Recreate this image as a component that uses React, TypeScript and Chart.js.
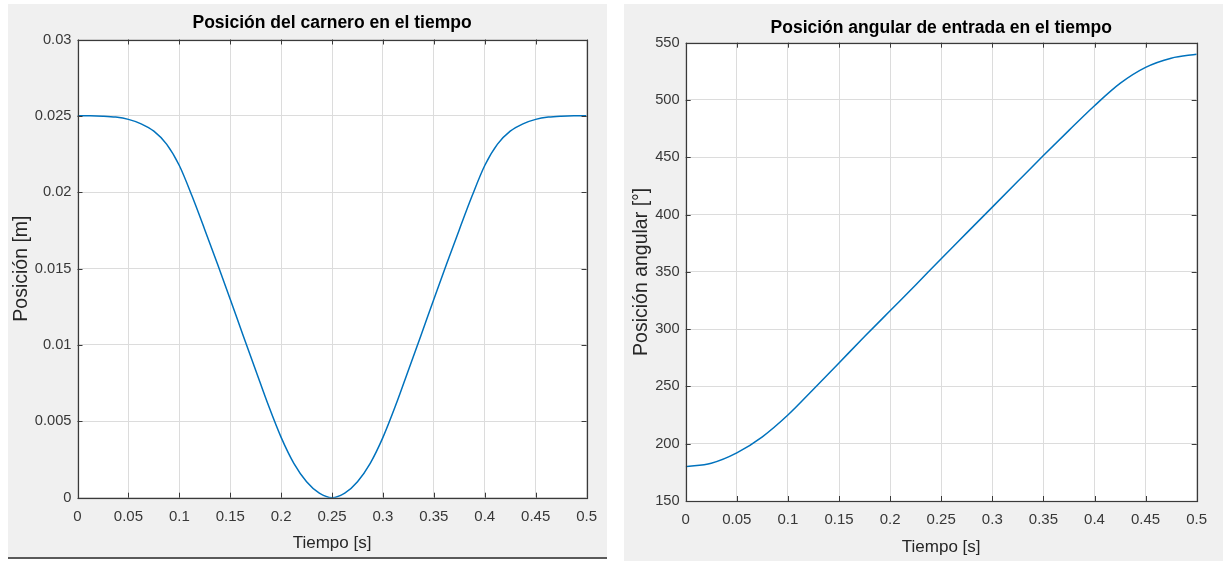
import React, { useEffect, useRef } from 'react';
import { Chart, registerables } from 'chart.js';

Chart.register(...registerables);

// ---------- data ----------
const tiempoCarnero = [
  0, 0.0125, 0.025, 0.0375, 0.05, 0.0625, 0.075, 0.0875, 0.1, 0.1125, 0.125,
  0.1375, 0.15, 0.1625, 0.175, 0.1875, 0.2, 0.2125, 0.225, 0.2375, 0.25,
  0.2625, 0.275, 0.2875, 0.3, 0.3125, 0.325, 0.3375, 0.35, 0.3625, 0.375,
  0.3875, 0.4, 0.4125, 0.425, 0.4375, 0.45, 0.4625, 0.475, 0.4875, 0.5,
];
const posicionCarnero = [
  0.025, 0.025, 0.02498, 0.02492, 0.02477, 0.02448, 0.024, 0.02315, 0.02175, 0.01975, 0.01755,
  0.0153, 0.013, 0.01065, 0.00835, 0.00605, 0.00395, 0.00225, 0.00105, 0.0003, 0.0,
  0.0003, 0.00105, 0.00225, 0.00395, 0.00605, 0.00835, 0.01065, 0.013, 0.0153, 0.01755,
  0.01975, 0.02175, 0.02315, 0.024, 0.02448, 0.02477, 0.02492, 0.02498, 0.025, 0.025,
];

const tiempoEntrada = [
  0, 0.025, 0.05, 0.075, 0.1, 0.125, 0.15, 0.175, 0.2, 0.225, 0.25,
  0.275, 0.3, 0.325, 0.35, 0.375, 0.4, 0.425, 0.45, 0.475, 0.5,
];
const anguloEntrada = [
  180, 183, 192, 206, 225, 247.5, 270.5, 293.5, 316, 338.5, 361.5,
  384, 406.5, 429, 451.5, 473.5, 495, 514.5, 528.5, 536.5, 540,
];

const tituloCarnero = 'Posición del carnero en el tiempo';
const tituloEntrada = 'Posición angular de entrada en el tiempo';
const etiquetaX = 'Tiempo [s]';
const etiquetaYCarnero = 'Posición [m]';
const etiquetaYEntrada = 'Posición angular [°]';

const FONT = "'Liberation Sans', Arial, Helvetica, sans-serif";
const LINE_COLOR = '#0072BD';
const AXIS_COLOR = '#3a3a3a';
const GRID_COLOR = '#dcdcdc';

const matlabBox = {
  id: 'matlabBox',
  beforeDraw(chart: any) {
    const { ctx, chartArea: a } = chart;
    ctx.save();
    ctx.fillStyle = '#ffffff';
    ctx.fillRect(a.left, a.top, a.right - a.left, a.bottom - a.top);
    ctx.restore();
  },
  afterDraw(chart: any) {
    const { ctx, chartArea: a } = chart;
    const xs = chart.scales.x;
    const ys = chart.scales.y;
    const L = 5;
    ctx.save();
    ctx.strokeStyle = AXIS_COLOR;
    ctx.lineWidth = 1;
    ctx.beginPath();
    for (const t of xs.ticks) {
      const px = Math.round(xs.getPixelForValue(t.value)) + 0.5;
      ctx.moveTo(px, a.bottom);
      ctx.lineTo(px, a.bottom - L);
      ctx.moveTo(px, a.top);
      ctx.lineTo(px, a.top + L);
    }
    for (const t of ys.ticks) {
      const py = Math.round(ys.getPixelForValue(t.value)) + 0.5;
      ctx.moveTo(a.left, py);
      ctx.lineTo(a.left + L, py);
      ctx.moveTo(a.right, py);
      ctx.lineTo(a.right - L, py);
    }
    ctx.stroke();
    ctx.lineWidth = 1.2;
    ctx.strokeRect(
      Math.round(a.left) + 0.5,
      Math.round(a.top) + 0.5,
      Math.round(a.right) - Math.round(a.left),
      Math.round(a.bottom) - Math.round(a.top)
    );
    ctx.restore();
  },
};

type PanelSpec = {
  title: string;
  yTitle: string;
  xs: number[];
  ys: number[];
  yMin: number;
  yMax: number;
  yStep: number;
  yDecimals: number;
  width: number;
  height: number;
  yWidth: number;
  xHeight: number;
  padRight: number;
  titlePadTop: number;
  titlePadBottom: number;
  xTitlePadBottom: number;
  yTitlePadTop: number;
};

function fmt(v: number, d: number) {
  const n = parseFloat(Number(v).toFixed(d));
  return String(n);
}

function MatlabPanel({ spec }: { spec: PanelSpec }) {
  const ref = useRef<HTMLCanvasElement | null>(null);
  useEffect(() => {
    if (!ref.current) return;
    const points = spec.xs.map((x, i) => ({ x, y: spec.ys[i] }));
    const chart = new Chart(ref.current, {
      type: 'line',
      data: {
        datasets: [
          {
            data: points,
            borderColor: LINE_COLOR,
            borderWidth: 1.5,
            pointRadius: 0,
            fill: false,
            cubicInterpolationMode: 'monotone',
          },
        ],
      },
      options: {
        animation: false,
        responsive: false,
        events: [],
        layout: { padding: { left: 0, top: 0, right: spec.padRight, bottom: 0 } },
        plugins: {
          legend: { display: false },
          tooltip: { enabled: false },
          title: {
            display: true,
            text: spec.title,
            fullSize: false,
            color: '#000000',
            font: { family: FONT, size: 17.5, weight: 'bold', lineHeight: 1.2 },
            padding: { top: spec.titlePadTop, bottom: spec.titlePadBottom },
          },
        },
        scales: {
          x: {
            type: 'linear',
            min: 0,
            max: 0.5,
            grid: { color: GRID_COLOR, lineWidth: 1, drawTicks: false },
            border: { display: false },
            ticks: {
              stepSize: 0.05,
              autoSkip: false,
              maxRotation: 0,
              padding: 10,
              color: '#383838',
              font: { family: FONT, size: 15 },
              callback: (v: any) => fmt(v, 2),
            },
            title: {
              display: true,
              text: etiquetaX,
              color: '#262626',
              font: { family: FONT, size: 17, lineHeight: 1.2 },
              padding: { top: 0, bottom: spec.xTitlePadBottom },
            },
            afterFit: (s: any) => {
              s.height = spec.xHeight;
            },
          },
          y: {
            type: 'linear',
            min: spec.yMin,
            max: spec.yMax,
            grid: { color: GRID_COLOR, lineWidth: 1, drawTicks: false },
            border: { display: false },
            ticks: {
              stepSize: spec.yStep,
              autoSkip: false,
              padding: 6,
              color: '#383838',
              font: { family: FONT, size: 14.7 },
              callback: (v: any) => fmt(v, spec.yDecimals),
            },
            title: {
              display: true,
              text: spec.yTitle,
              color: '#262626',
              font: { family: FONT, size: 19.5, lineHeight: 1.2 },
              padding: { top: spec.yTitlePadTop, bottom: 0 },
            },
            afterFit: (s: any) => {
              s.width = spec.yWidth;
            },
          },
        },
      } as any,
      plugins: [matlabBox],
    });
    return () => chart.destroy();
  }, [spec]);
  return (
    <canvas
      ref={ref}
      width={spec.width}
      height={spec.height}
      style={{ display: 'block', width: spec.width, height: spec.height }}
    />
  );
}

const specCarnero: PanelSpec = {
  title: tituloCarnero,
  yTitle: etiquetaYCarnero,
  xs: tiempoCarnero,
  ys: posicionCarnero,
  yMin: 0,
  yMax: 0.03,
  yStep: 0.005,
  yDecimals: 3,
  width: 599,
  height: 553,
  yWidth: 69.5,
  xHeight: 59.3,
  padRight: 18.3,
  titlePadTop: 8.5,
  titlePadBottom: 6,
  xTitlePadBottom: 3.3,
  yTitlePadTop: 2.3,
};

const specEntrada: PanelSpec = {
  title: tituloEntrada,
  yTitle: etiquetaYEntrada,
  xs: tiempoEntrada,
  ys: anguloEntrada,
  yMin: 150,
  yMax: 550,
  yStep: 50,
  yDecimals: 0,
  width: 599,
  height: 557,
  yWidth: 61.7,
  xHeight: 60,
  padRight: 26.3,
  titlePadTop: 13.5,
  titlePadBottom: 4.2,
  xTitlePadBottom: 3.8,
  yTitlePadTop: 6.3,
};

export default function App() {
  return (
    <div>
      <div
        style={{
          position: 'absolute',
          left: 8,
          top: 4,
          width: 599,
          height: 553,
          background: '#f0f0f0',
        }}
      >
        <MatlabPanel spec={specCarnero} />
      </div>
      <div
        style={{
          position: 'absolute',
          left: 8,
          top: 557,
          width: 599,
          height: 2,
          background: '#5a5a5a',
        }}
      />
      <div
        style={{
          position: 'absolute',
          left: 624,
          top: 4,
          width: 599,
          height: 557,
          background: '#f0f0f0',
        }}
      >
        <MatlabPanel spec={specEntrada} />
      </div>
    </div>
  );
}
